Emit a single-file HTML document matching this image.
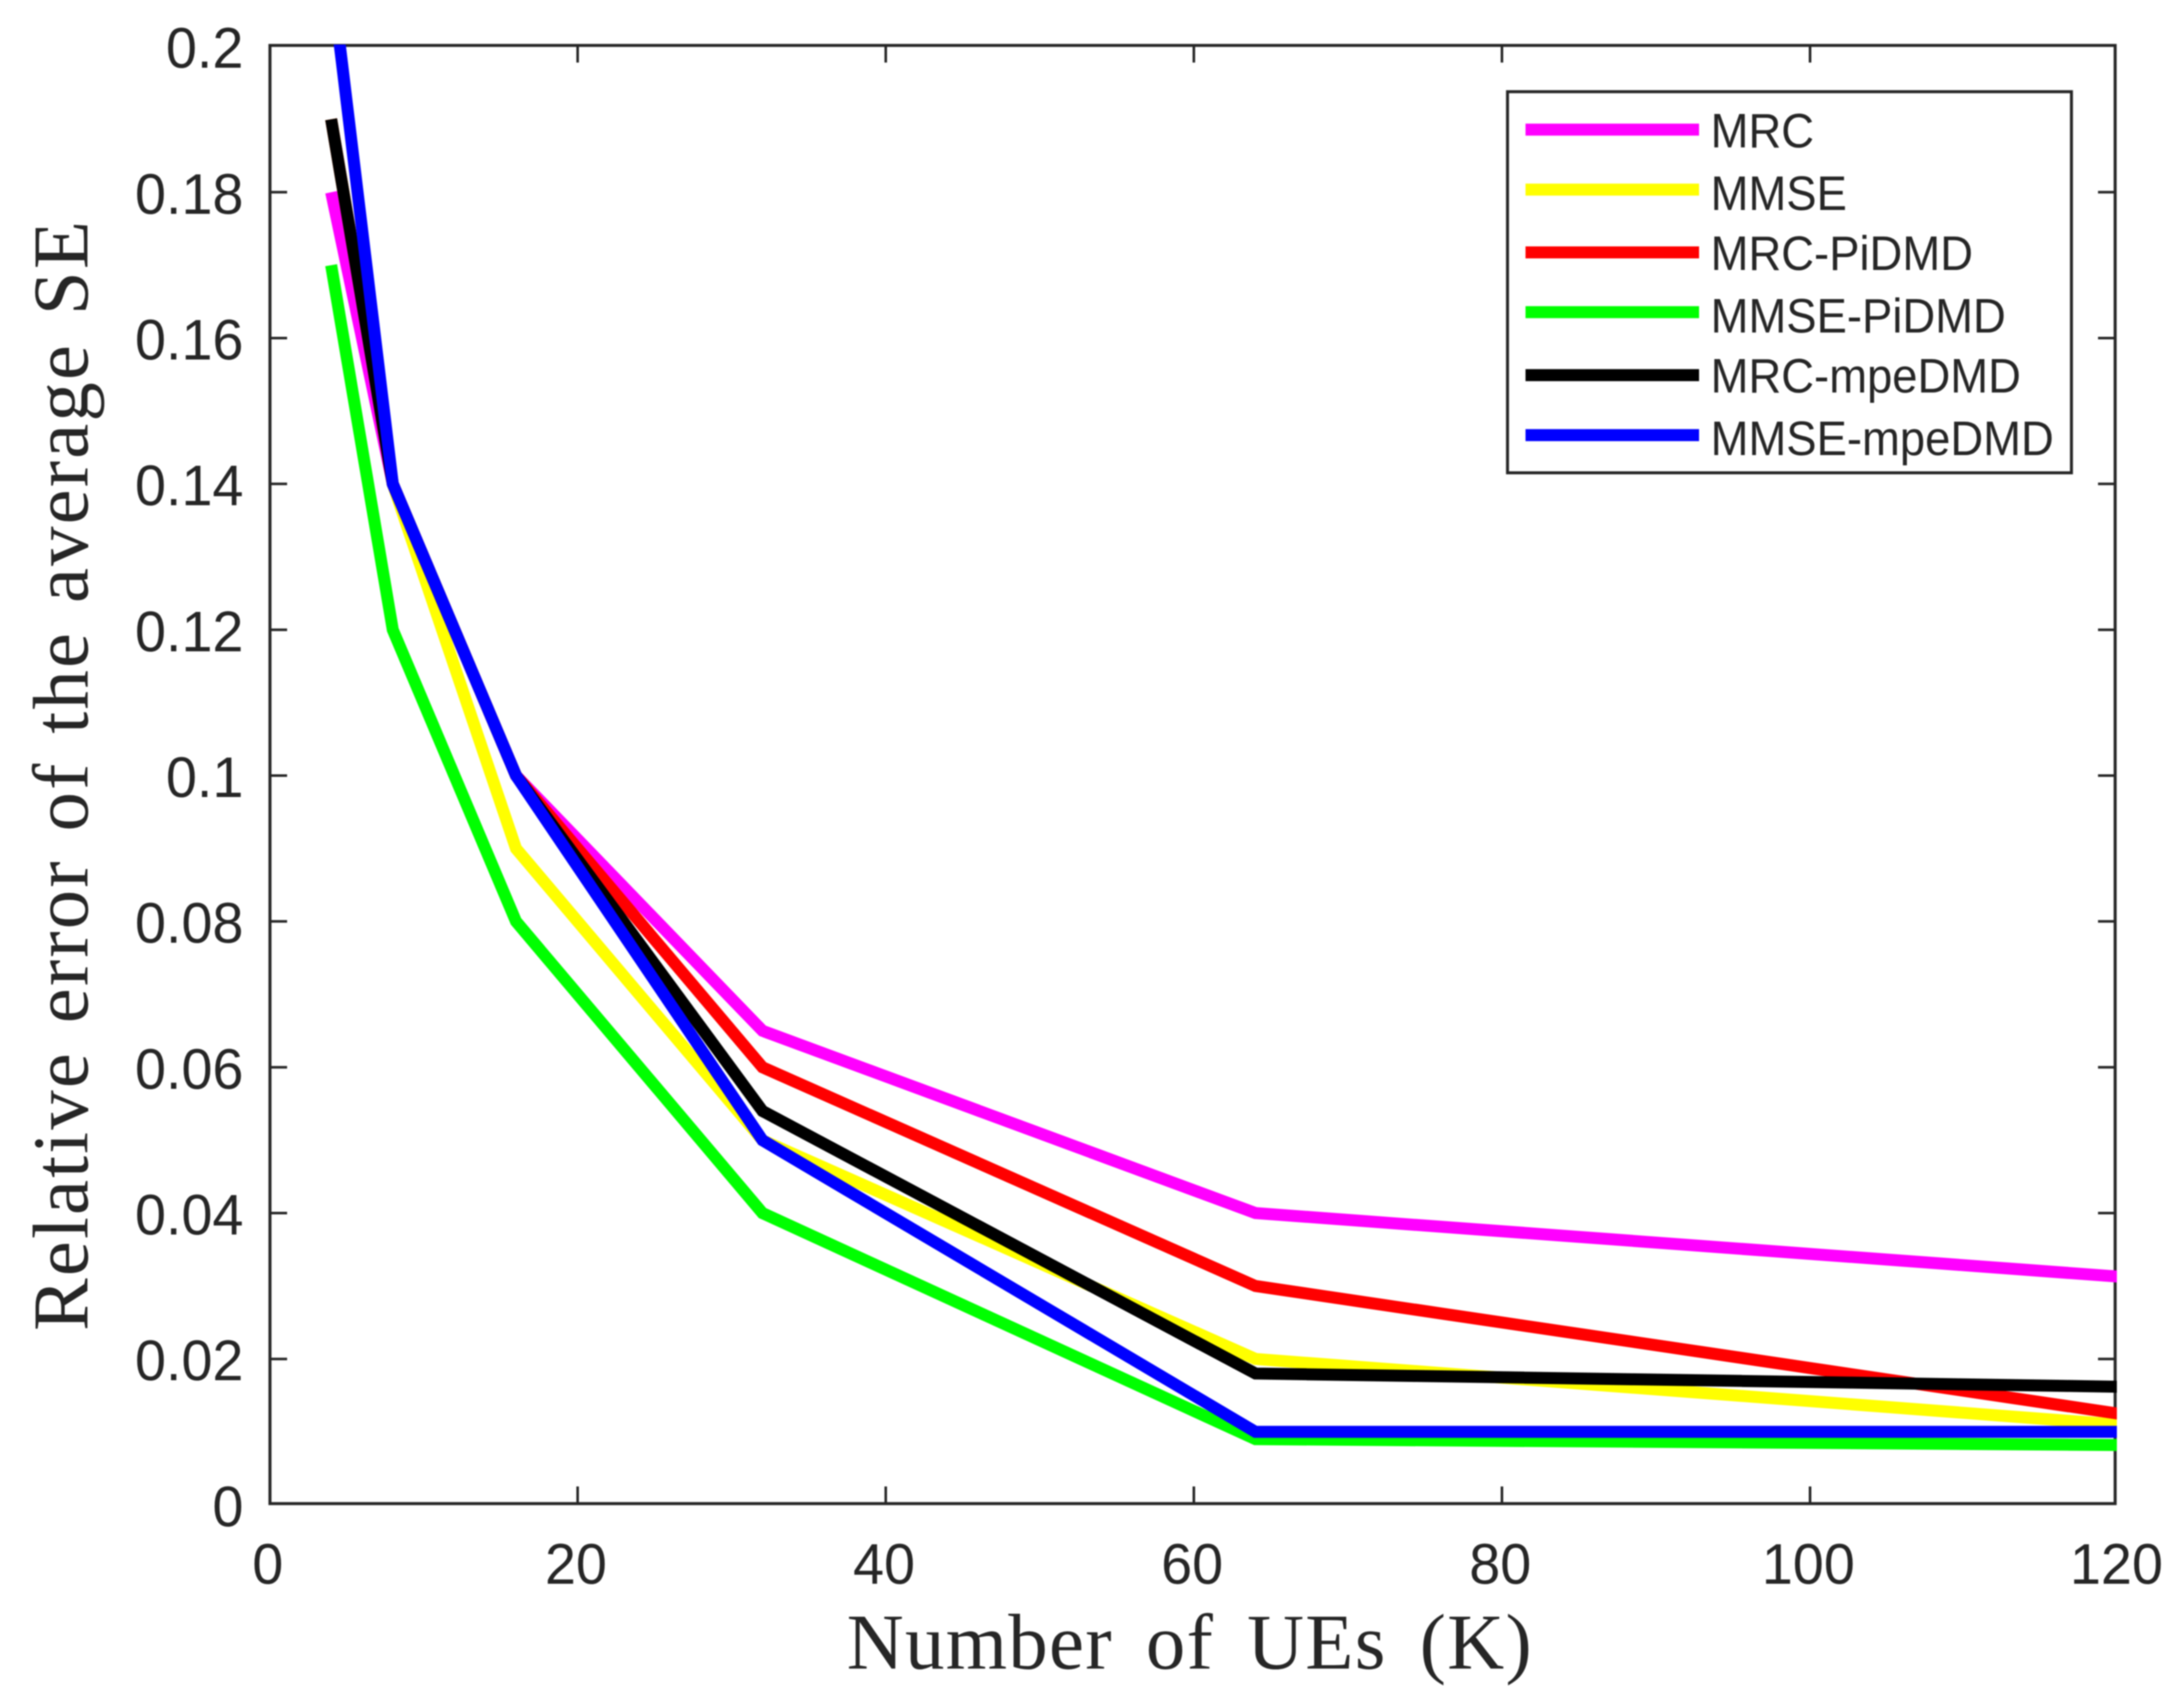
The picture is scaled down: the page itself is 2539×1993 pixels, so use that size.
<!DOCTYPE html>
<html lang="en">
<head>
<meta charset="utf-8">
<title>Relative error of the average SE vs number of UEs</title>
<style>
  html, body { margin: 0; padding: 0; background: #fff; }
  svg { display: block; filter: blur(0.7px); }
  text { fill: #262626; }
  .tick-label, .legend-label { font-family: "Liberation Sans", Arial, sans-serif; }
  .tick-label { font-size: 65px; }
  .legend-label { font-size: 53px; }
  .axis-title { font-family: "Liberation Serif", "Times New Roman", serif; font-size: 92px; }
  .y-title { letter-spacing: 2.5px; word-spacing: 7px; }
  .x-title { letter-spacing: 1.5px; word-spacing: 14px; }
  .frame { fill: none; stroke: #262626; stroke-width: 3.5; }
  .tick { stroke: #262626; stroke-width: 3; }
  .series { fill: none; stroke-width: 14; stroke-linejoin: miter; stroke-linecap: butt; }
  .s0 { stroke: #ff00ff; }
  .s1 { stroke: #ffff00; }
  .s2 { stroke: #ff0000; }
  .s3 { stroke: #00ff00; }
  .s4 { stroke: #000000; }
  .s5 { stroke: #0000ff; }
  .legend-box { fill: #fff; stroke: #262626; stroke-width: 3.5; }
  .legend-line { stroke-width: 14; fill: none; }
</style>
</head>
<body>
<svg id="chart" xmlns="http://www.w3.org/2000/svg" width="2539" height="1993" viewBox="0 0 2539 1993">
  <defs>
    <clipPath id="plot-clip"><rect x="313" y="52" width="2157" height="1704"></rect></clipPath>
  </defs>
  <rect class="frame" x="315" y="53" width="2153" height="1701.5"></rect>
  <g id="ticks"></g>
  <g id="series-layer" clip-path="url(#plot-clip)"></g>

  <text class="axis-title y-title" transform="translate(102,1553) rotate(-90)" x="0" y="0">Relative error of the average SE</text>
  <text class="axis-title x-title" x="988" y="1947">Number of UEs (K)</text>

  <g>
    <rect class="legend-box" x="1759" y="107" width="658" height="444.7"></rect>
    <g>
      <line class="legend-line s0" x1="1780" x2="1982.5" y1="151.2" y2="151.2"></line>
      <text class="legend-label" transform="translate(1996,172) scale(1,1.07)">MRC</text>
    </g>
    <g>
      <line class="legend-line s1" x1="1780" x2="1982.5" y1="221.2" y2="221.2"></line>
      <text class="legend-label" transform="translate(1996,245) scale(1,1.07)">MMSE</text>
    </g>
    <g>
      <line class="legend-line s2" x1="1780" x2="1982.5" y1="294.5" y2="294.5"></line>
      <text class="legend-label" transform="translate(1996,315) scale(1,1.07)">MRC-PiDMD</text>
    </g>
    <g>
      <line class="legend-line s3" x1="1780" x2="1982.5" y1="364.3" y2="364.3"></line>
      <text class="legend-label" transform="translate(1996,388) scale(1,1.07)">MMSE-PiDMD</text>
    </g>
    <g>
      <line class="legend-line s4" x1="1780" x2="1982.5" y1="437.7" y2="437.7"></line>
      <text class="legend-label" transform="translate(1996,458) scale(1,1.07)">MRC-mpeDMD</text>
    </g>
    <g>
      <line class="legend-line s5" x1="1780" x2="1982.5" y1="507.7" y2="507.7"></line>
      <text class="legend-label" transform="translate(1996,531) scale(1,1.07)">MMSE-mpeDMD</text>
    </g>
  </g>
</svg>
<script>
const ueCounts = [4, 8, 16, 32, 64, 120];
const mrc = [0.18, 0.14, 0.1, 0.065, 0.04, 0.0313];
const mmse = [0.19, 0.14, 0.09, 0.05, 0.02, 0.011];
const mrcPiDMD = [0.19, 0.14, 0.1, 0.06, 0.03, 0.0125];
const mmsePiDMD = [0.17, 0.12, 0.08, 0.04, 0.009, 0.0082];
const mrcMpeDMD = [0.19, 0.14, 0.1, 0.054, 0.018, 0.0162];
const mmseMpeDMD = [0.21, 0.14, 0.1, 0.05, 0.01, 0.01];
const xTickValues = [0, 20, 40, 60, 80, 100, 120];
const yTickValues = [0, 0.02, 0.04, 0.06, 0.08, 0.1, 0.12, 0.14, 0.16, 0.18, 0.2];
const xTickLabels = ["0", "20", "40", "60", "80", "100", "120"];
const yTickLabels = ["0", "0.02", "0.04", "0.06", "0.08", "0.1", "0.12", "0.14", "0.16", "0.18", "0.2"];

const NS = "http://www.w3.org/2000/svg";
const scaleLeft = 314.5, scaleRight = 2471.5, scaleTop = 54.1, scaleBottom = 1755.9;
const frameLeft = 315, frameRight = 2468, frameTop = 53, frameBottom = 1754.5;
const xMax = 120, yMax = 0.2;
function xScale(v) { return scaleLeft + (v / xMax) * (scaleRight - scaleLeft); }
function yScale(v) { return scaleBottom - (v / yMax) * (scaleBottom - scaleTop); }

const tickGroup = document.getElementById("ticks");
function addTick(x1, y1, x2, y2) {
  const t = document.createElementNS(NS, "line");
  
  
  t.setAttribute("class", "tick");
  t.setAttribute("x1", x1);
  t.setAttribute("y1", y1);
  t.setAttribute("x2", x2);
  t.setAttribute("y2", y2);
  tickGroup.appendChild(t);
}
const tickLength = 20;
xTickValues.forEach(function (v, i) {
  const x = xScale(v);
  if (i > 0 && i < xTickValues.length - 1) {
    addTick(x, frameBottom, x, frameBottom - tickLength);
    addTick(x, frameTop, x, frameTop + tickLength);
  }
  const label = document.createElementNS(NS, "text");
  
  
  label.setAttribute("class", "tick-label");
  label.setAttribute("transform", "translate(" + (x - 2) + ",1848) scale(1,1.03)");
  label.setAttribute("text-anchor", "middle");
  label.textContent = xTickLabels[i];
  tickGroup.appendChild(label);
});
yTickValues.forEach(function (v, i) {
  const y = yScale(v);
  if (i > 0 && i < yTickValues.length - 1) {
    addTick(frameLeft, y, frameLeft + tickLength, y);
    addTick(frameRight, y, frameRight - tickLength, y);
  }
  const label = document.createElementNS(NS, "text");
  
  
  label.setAttribute("class", "tick-label");
  label.setAttribute("transform", "translate(284," + (y + 25) + ") scale(1,1.03)");
  label.setAttribute("text-anchor", "end");
  label.textContent = yTickLabels[i];
  tickGroup.appendChild(label);
});

const seriesLayer = document.getElementById("series-layer");
function drawSeries(values, styleClass, name) {
  const pts = values.map(function (v, i) {
    return xScale(ueCounts[i]).toFixed(1) + "," + yScale(v).toFixed(1);
  }).join(" ");
  const line = document.createElementNS(NS, "polyline");
  
  
  line.setAttribute("class", "series " + styleClass);
  line.setAttribute("points", pts);
  seriesLayer.appendChild(line);
}
drawSeries(mrc, "s0", "series-mrc");
drawSeries(mmse, "s1", "series-mmse");
drawSeries(mrcPiDMD, "s2", "series-mrc-pidmd");
drawSeries(mmsePiDMD, "s3", "series-mmse-pidmd");
drawSeries(mrcMpeDMD, "s4", "series-mrc-mpedmd");
drawSeries(mmseMpeDMD, "s5", "series-mmse-mpedmd");
</script>
</body>
</html>
